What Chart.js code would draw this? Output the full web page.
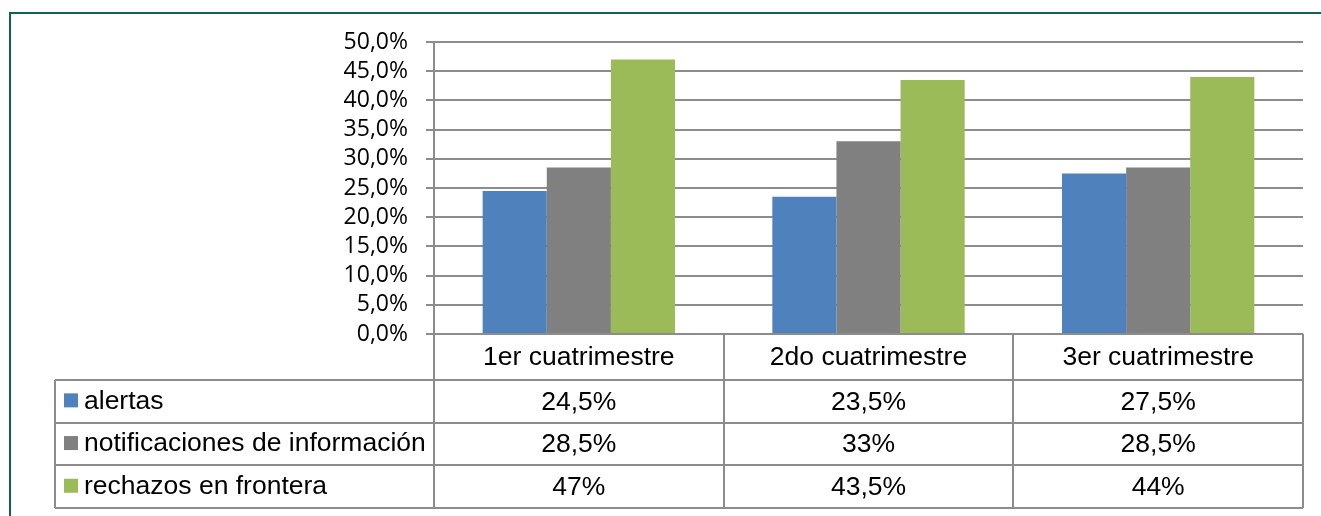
<!DOCTYPE html>
<html>
<head>
<meta charset="utf-8">
<script src="https://cdn.jsdelivr.net/npm/chart.js@4/dist/chart.umd.min.js"></script>
<style>
    body { margin: 0; background: #ffffff; }
    #wrap { width: 1321px; height: 516px; }
</style>
</head>
<body>
<div id="wrap"><canvas id="barChart" width="1321" height="516"></canvas></div>
<script>
const categories = ["1er cuatrimestre", "2do cuatrimestre", "3er cuatrimestre"];
const seriesNames = ["alertas", "notificaciones de información", "rechazos en frontera"];
const alertas = [24.5, 23.5, 27.5];
const notificaciones = [28.5, 33, 28.5];
const rechazos = [47, 43.5, 44];
const yTicks = [0, 5, 10, 15, 20, 25, 30, 35, 40, 45, 50];
const colors = ["#4f81bd", "#808080", "#9bbb59"];

const lineGray = "#8c8c8c";
const tableFont = "26.5px 'Liberation Sans', Arial, sans-serif";

function pct(v) {
    return String(v).replace(".", ",") + "%";
}

// draws the frame and the data table under the plot
const tablePlugin = {
    id: "dataTable",
    afterDraw(chart) {
        const ctx = chart.ctx;
        const area = chart.chartArea;
        const xScale = chart.scales.x;
        const n = categories.length;
        const colW = (area.right - area.left) / n;
        const headerBottom = area.bottom + 46;
        const rowH = 42.7;
        const tableLeft = 55;
        const tableBottom = headerBottom + rowH * seriesNames.length;

        ctx.save();
        // green frame
        ctx.strokeStyle = "#12614a";
        ctx.lineWidth = 2;
        ctx.beginPath();
        ctx.moveTo(10, 516);
        ctx.lineTo(10, 13);
        ctx.lineTo(1321, 13);
        ctx.stroke();

        ctx.strokeStyle = lineGray;
        ctx.lineWidth = 2;
        ctx.beginPath();
        for (let i = 0; i <= n; i++) {
            const x = Math.round(area.left + colW * i);
            ctx.moveTo(x, area.bottom);
            ctx.lineTo(x, tableBottom);
        }
        for (let r = 0; r <= seriesNames.length; r++) {
            const y = Math.round(headerBottom + rowH * r);
            ctx.moveTo(tableLeft, y);
            ctx.lineTo(area.right, y);
        }
        ctx.moveTo(tableLeft, headerBottom);
        ctx.lineTo(tableLeft, tableBottom);
        ctx.stroke();

        ctx.fillStyle = "#000000";
        ctx.font = tableFont;
        ctx.textBaseline = "middle";
        ctx.textAlign = "center";
        categories.forEach((c, i) => {
            ctx.fillText(c, xScale.getPixelForValue(i), (area.bottom + headerBottom) / 2 + 1);
        });

        chart.data.datasets.forEach((ds, r) => {
            const yMid = headerBottom + rowH * r + rowH / 2;
            ctx.fillStyle = ds.backgroundColor;
            ctx.fillRect(64, yMid - 8, 14, 14);
            ctx.fillStyle = "#000000";
            ctx.textAlign = "left";
            ctx.fillText(ds.label, 84, yMid);
            ctx.textAlign = "center";
            ds.data.forEach((v, i) => {
                ctx.fillText(pct(v), xScale.getPixelForValue(i), yMid + 1);
            });
        });
        ctx.restore();
    }
};

new Chart(document.getElementById("barChart"), {
    type: "bar",
    data: {
        labels: categories,
        datasets: [
            { label: seriesNames[0], data: alertas, backgroundColor: colors[0] },
            { label: seriesNames[1], data: notificaciones, backgroundColor: colors[1] },
            { label: seriesNames[2], data: rechazos, backgroundColor: colors[2] }
        ]
    },
    options: {
        responsive: false,
        animation: false,
        layout: { padding: { left: 0, top: 42, right: 18, bottom: 182 } },
        datasets: {
            bar: { barPercentage: 1, categoryPercentage: 0.664, borderWidth: 0 }
        },
        scales: {
            x: { display: false },
            y: {
                min: 0,
                max: 50,
                afterBuildTicks(scale) {
                    scale.ticks = yTicks.map(v => ({ value: v }));
                },
                afterFit(scale) {
                    scale.width = 434;
                },
                grid: { color: lineGray, lineWidth: 2, tickLength: 8 },
                border: { color: lineGray, width: 2 },
                ticks: {
                    autoSkip: false,
                    padding: 18,
                    color: "#000000",
                    font: { family: "'Open Sans', sans-serif", size: 23, lineHeight: 1 },
                    callback: v => v.toFixed(1).replace(".", ",") + "%"
                }
            }
        },
        plugins: {
            legend: { display: false },
            tooltip: { enabled: false }
        }
    },
    plugins: [tablePlugin]
});
</script>
</body>
</html>
